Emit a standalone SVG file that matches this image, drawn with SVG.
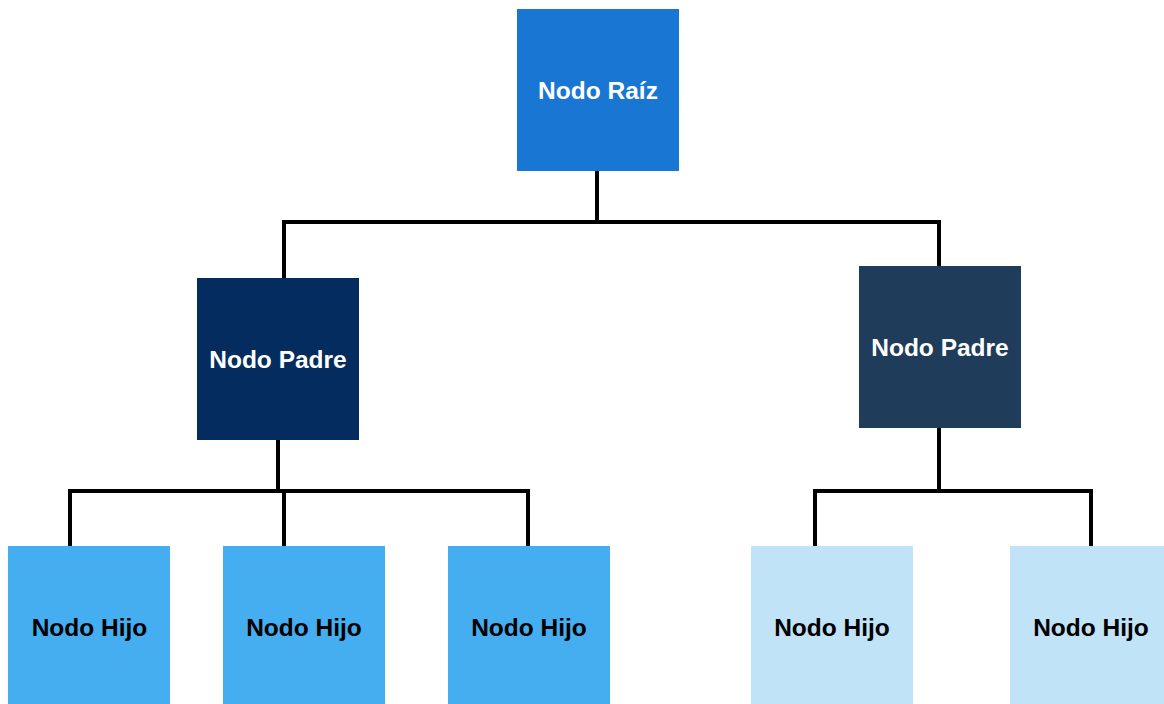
<svg xmlns="http://www.w3.org/2000/svg" width="1164" height="704" viewBox="0 0 1164 704">
<style>
.t{font-family:"Liberation Sans",Arial,sans-serif;font-weight:bold;font-size:24.5px;text-anchor:middle;dominant-baseline:central}
.w{fill:#ffffff}
.k{fill:#000000}
.c{fill:none;stroke:#000000;stroke-width:4;stroke-linejoin:miter}
</style>
<rect width="1164" height="704" fill="#ffffff"/>
<g id="connectors">
<path class="c" d="M597 171V222"/>
<path class="c" d="M284 278V222H939V266"/>
<path class="c" d="M278 439V491"/>
<path class="c" d="M70 546V491H528V546"/>
<path class="c" d="M284 491V546"/>
<path class="c" d="M939 427V491"/>
<path class="c" d="M815 546V491H1091V546"/>
</g>
<g id="root"><rect x="517" y="9" width="162" height="162" fill="#1976D2"/><text class="t w" x="598" y="90">Nodo Raíz</text></g>
<g id="parent1"><rect x="197" y="278" width="162" height="162" fill="#052C5E"/><text class="t w" x="278" y="359">Nodo Padre</text></g>
<g id="parent2"><rect x="859" y="266" width="162" height="162" fill="#1F3C5A"/><text class="t w" x="940" y="347">Nodo Padre</text></g>
<g id="child1"><rect x="8" y="546" width="162" height="162" fill="#44AEF0"/><text class="t k" x="89.5" y="627">Nodo Hijo</text></g>
<g id="child2"><rect x="223" y="546" width="162" height="162" fill="#44AEF0"/><text class="t k" x="304" y="627">Nodo Hijo</text></g>
<g id="child3"><rect x="448" y="546" width="162" height="162" fill="#44AEF0"/><text class="t k" x="529" y="627">Nodo Hijo</text></g>
<g id="child4"><rect x="751" y="546" width="162" height="162" fill="#C0E3F8"/><text class="t k" x="832" y="627">Nodo Hijo</text></g>
<g id="child5"><rect x="1010" y="546" width="162" height="162" fill="#C0E3F8"/><text class="t k" x="1091" y="627">Nodo Hijo</text></g>
</svg>
